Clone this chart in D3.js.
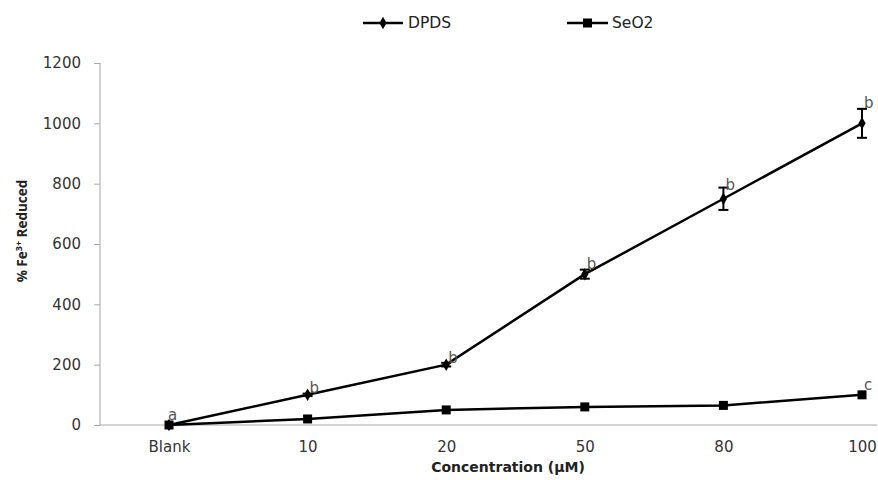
<!DOCTYPE html>
<html>
<head>
<meta charset="utf-8">
<script src="https://cdn.jsdelivr.net/npm/d3@7"></script>
<style>
body { margin: 0; background: #fff; }
text { font-family: "DejaVu Sans", sans-serif; }
.axis path, .axis line { stroke: #a6a6a6; }
.axis text { fill: #333; font-size: 15px; font-family: "DejaVu Sans", sans-serif; }
.line { fill: none; stroke: #000; stroke-width: 2.5px; }
</style>
</head>
<body>
<svg width="878" height="480"></svg>
<script>
var categories = ["Blank", "10", "20", "50", "80", "100"];
var dpds = [0, 100, 200, 500, 750, 1000];
var dpdsErr = [0, 4, 6, 15, 37, 48];
var seo2 = [0, 20, 50, 60, 65, 100];
var dpdsLetters = ["a", "b", "b", "b", "b", "b"];
var seo2Letters = ["", "", "", "", "", "c"];
var yTicks = [0, 200, 400, 600, 800, 1000, 1200];

var svg = d3.select("svg");
var plotL = 100, plotR = 877, plotT = 63, plotB = 425;

var x = d3.scalePoint().domain(categories).range([169, 862]);
var y = d3.scaleLinear().domain([0, 1200]).range([plotB, plotT]);

// y axis
var ya = svg.append("g").attr("class", "axis").attr("transform", "translate(" + plotL + ",0)")
  .call(d3.axisLeft(y).tickValues(yTicks).tickFormat(d3.format("d")).tickSize(6).tickPadding(13));
ya.select(".domain").attr("d", "M0," + plotT + "V" + plotB);

// x axis
var xa = svg.append("g").attr("class", "axis").attr("transform", "translate(0," + plotB + ")")
  .call(d3.axisBottom(x).tickSize(0).tickPadding(16));
xa.select(".domain").attr("d", "M" + plotL + ",0H" + plotR);

var line = d3.line().x(function(d, i) { return x(categories[i]); }).y(function(d) { return y(d); });

svg.append("path").attr("class", "line").attr("d", line(seo2));
svg.append("path").attr("class", "line").attr("d", line(dpds));

// error bars
var eb = svg.append("g").attr("stroke", "#000").attr("stroke-width", 2);
dpds.forEach(function(v, i) {
  if (!dpdsErr[i]) return;
  var cx = x(categories[i]);
  eb.append("line").attr("x1", cx).attr("x2", cx).attr("y1", y(v - dpdsErr[i])).attr("y2", y(v + dpdsErr[i]));
  eb.append("line").attr("x1", cx - 5).attr("x2", cx + 5).attr("y1", y(v - dpdsErr[i])).attr("y2", y(v - dpdsErr[i]));
  eb.append("line").attr("x1", cx - 5).attr("x2", cx + 5).attr("y1", y(v + dpdsErr[i])).attr("y2", y(v + dpdsErr[i]));
});

// markers
svg.selectAll(".sq").data(seo2).enter().append("rect")
  .attr("x", function(d, i) { return x(categories[i]) - 4.5; })
  .attr("y", function(d) { return y(d) - 4.5; })
  .attr("width", 9).attr("height", 9).attr("fill", "#000");
svg.selectAll(".dm").data(dpds).enter().append("path")
  .attr("d", d3.symbol().type(d3.symbolDiamond).size(45))
  .attr("transform", function(d, i) { return "translate(" + x(categories[i]) + "," + y(d) + ")"; })
  .attr("fill", "#000");

// significance letters
function letters(vals, labs, dx, dy) {
  svg.selectAll(null).data(vals).enter().append("text")
    .attr("x", function(d, i) { return x(categories[i]) + dx[i]; })
    .attr("y", function(d, i) { return y(d) - dy[i]; })
    .attr("font-size", 15).attr("fill", "#555")
    .text(function(d, i) { return labs[i]; });
}
letters(dpds, dpdsLetters, [-1, 2, 2, 2, 2, 2], [5, 2, 2, 5, 9, 15]);
letters(seo2, seo2Letters, [0, 0, 0, 0, 0, 2], [0, 0, 0, 0, 0, 5]);

// axis titles
svg.append("text").attr("transform", "translate(27,231) rotate(-90)")
  .attr("text-anchor", "middle").attr("font-size", 13.5).attr("font-weight", "bold").attr("fill", "#222")
  .style("font-family", "'Open Sans', sans-serif")
  .html('% Fe<tspan font-size="9" dy="-5">3+</tspan><tspan dy="5"> Reduced</tspan>');
svg.append("text").attr("x", 508).attr("y", 472).attr("text-anchor", "middle")
  .attr("font-size", 14).attr("font-weight", "bold").attr("fill", "#222")
  .text("Concentration (\u00b5M)");

// legend
var lg = svg.append("g");
lg.append("line").attr("x1", 363).attr("x2", 403).attr("y1", 23).attr("y2", 23).attr("stroke", "#000").attr("stroke-width", 2.5);
lg.append("path").attr("d", d3.symbol().type(d3.symbolDiamond).size(45)).attr("transform", "translate(383,23)");
lg.append("text").attr("x", 408).attr("y", 28).attr("font-size", 15.5).attr("fill", "#222").text("DPDS");
lg.append("line").attr("x1", 567).attr("x2", 608).attr("y1", 23).attr("y2", 23).attr("stroke", "#000").attr("stroke-width", 2.5);
lg.append("rect").attr("x", 583).attr("y", 18.5).attr("width", 9).attr("height", 9);
lg.append("text").attr("x", 612).attr("y", 28).attr("font-size", 15.5).attr("fill", "#222").text("SeO2");
</script>
</body>
</html>
